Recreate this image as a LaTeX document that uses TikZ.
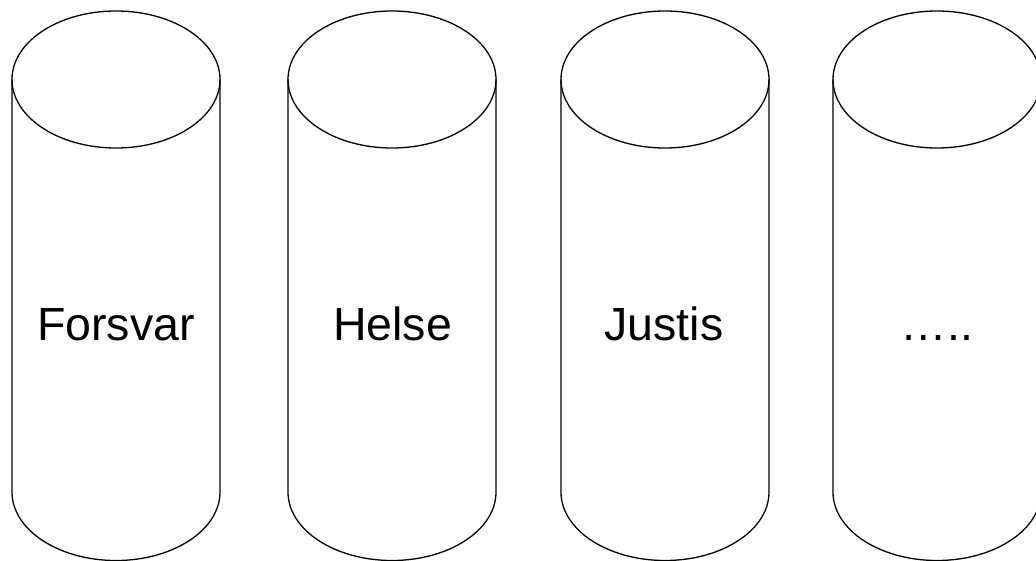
\documentclass[tikz,border=0pt]{standalone}
\usepackage{fontspec}
\setmainfont{Liberation Sans}
\begin{document}
\begin{tikzpicture}[x=1pt,y=1pt,
  cyl/.style={draw=black,line width=1.3pt},
  lbl/.style={anchor=base,inner sep=0pt,font=\fontsize{46.5}{50}\selectfont}]
\useasboundingbox (0,0) rectangle (1036,-561);
\foreach \cx/\nm in {116/a,392/b,665/c,937/d}{
  \draw[cyl] (\cx,-79.5) ellipse [x radius=104,y radius=68.5];
  \draw[cyl] (\cx-104,-79.5) -- (\cx-104,-492) arc[start angle=180,end angle=360,x radius=104,y radius=68.5] -- (\cx+104,-79.5);
}
\node[lbl] (forsvar) at (116,-341) {Forsvar};
\node[lbl] (helse) at (392.5,-341) {Helse};
\node[lbl] (justis) at (664,-341) {Justis};
\node[lbl] (dots) at (937,-341) {…..};
\end{tikzpicture}
\end{document}
